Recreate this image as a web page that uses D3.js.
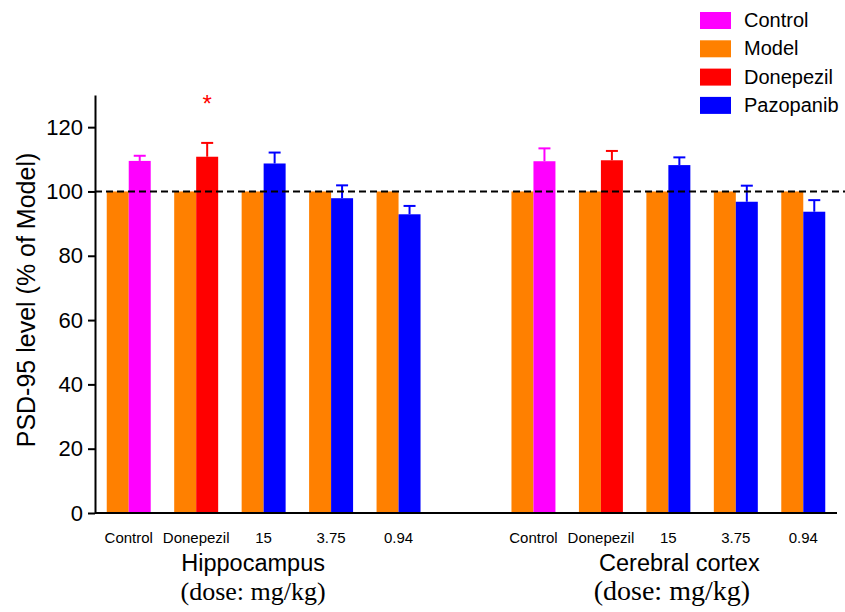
<!DOCTYPE html>
<html>
<head>
<meta charset="utf-8">
<script src="https://cdn.jsdelivr.net/npm/d3@7"></script>
<style>
  body { margin: 0; background: #fff; }
  svg { display: block; }
  text { font-family: "Liberation Sans", Arial, sans-serif; }
</style>
</head>
<body>
<div id="container"></div>
<script>
// Data
const groups = ["Hippocampus", "Cerebral cortex"]
const doses = ["Control", "Donepezil", "15", "3.75", "0.94"]
const treatments = ["Control", "Donepezil", "Pazopanib", "Pazopanib", "Pazopanib"]
const modelValue = 100
const hippoValues = [109.5, 110.8, 108.7, 97.9, 92.9]
const hippoErrors = [1.6, 4.3, 3.4, 4.0, 2.6]
const cortexValues = [109.4, 109.7, 108.2, 96.8, 93.7]
const cortexErrors = [4.0, 2.9, 2.4, 5.0, 3.6]
const significant = [{group: "Hippocampus", dose: "Donepezil", mark: "*"}]
const legendItems = ["Control", "Model", "Donepezil", "Pazopanib"]
const yTicks = [0, 20, 40, 60, 80, 100, 120]

const color = d3.scaleOrdinal()
  .domain(["Control", "Model", "Donepezil", "Pazopanib"])
  .range(["#ff00ff", "#ff8000", "#ff0000", "#0000ff"])

const width = 845, height = 612
const svg = d3.create("svg").attr("width", width).attr("height", height)
container.append(svg.node())

// slots: five per region, one empty slot between regions
const slots = []
groups.forEach((g, gi) => {
  if (gi > 0) slots.push("gap")
  doses.forEach(d => slots.push(g + "|" + d))
})

const x = d3.scaleBand().domain(slots).range([95, 837])
const bw = x.bandwidth()
const pair = bw * 0.652
const xInner = d3.scaleBand().domain(["Model", "Treated"])
  .range([(bw - pair) / 2, (bw + pair) / 2])

const y = d3.scaleLinear().domain([0, 130]).range([513, 95])

const rows = []
const seriesValues = [hippoValues, cortexValues]
const seriesErrors = [hippoErrors, cortexErrors]
groups.forEach((g, gi) => {
  doses.forEach((d, di) => {
    rows.push({group: g, dose: d, kind: "Model", series: "Model", value: modelValue, err: 0})
    rows.push({group: g, dose: d, kind: "Treated", series: treatments[di],
      value: seriesValues[gi][di], err: seriesErrors[gi][di]})
  })
})

const barX = d => x(d.group + "|" + d.dose) + xInner(d.kind)

// error bars (upper only, drawn behind bars)
const errs = rows.filter(d => d.err > 0)
const eg = svg.append("g")
eg.selectAll("line.v").data(errs).join("line")
  .attr("class", "v")
  .attr("x1", d => barX(d) + xInner.bandwidth() / 2)
  .attr("x2", d => barX(d) + xInner.bandwidth() / 2)
  .attr("y1", d => y(d.value))
  .attr("y2", d => y(d.value + d.err))
  .attr("stroke", d => color(d.series))
  .attr("stroke-width", 2)
eg.selectAll("line.c").data(errs).join("line")
  .attr("class", "c")
  .attr("x1", d => barX(d) + xInner.bandwidth() / 2 - 6)
  .attr("x2", d => barX(d) + xInner.bandwidth() / 2 + 6)
  .attr("y1", d => y(d.value + d.err))
  .attr("y2", d => y(d.value + d.err))
  .attr("stroke", d => color(d.series))
  .attr("stroke-width", 2)

svg.append("g").selectAll("rect").data(rows).join("rect")
  .attr("x", barX)
  .attr("y", d => y(d.value))
  .attr("width", xInner.bandwidth())
  .attr("height", d => y(0) - y(d.value))
  .attr("fill", d => color(d.series))

// reference line at 100%
svg.append("line")
  .attr("x1", 95).attr("x2", width)
  .attr("y1", y(100)).attr("y2", y(100))
  .attr("stroke", "#000")
  .attr("stroke-width", 2)
  .attr("stroke-dasharray", "7,4")

// significance marks
svg.selectAll("text.sig").data(significant).join("text")
  .attr("class", "sig")
  .attr("x", d => x(d.group + "|" + d.dose) + xInner("Treated") + xInner.bandwidth() / 2)
  .attr("y", d => {
    const r = rows.find(r => r.group == d.group && r.dose == d.dose && r.kind == "Treated")
    return y(r.value + r.err + 9.5)
  })
  .attr("text-anchor", "middle")
  .attr("font-size", 24)
  .attr("fill", "#ff0000")
  .text(d => d.mark)

// y axis
const yAxis = svg.append("g")
  .attr("transform", "translate(95,0)")
  .call(d3.axisLeft(y).tickValues(yTicks).tickSize(7).tickPadding(5).tickSizeOuter(0))
yAxis.select(".domain").attr("stroke-width", 2)
yAxis.selectAll(".tick line").attr("stroke-width", 2)
yAxis.selectAll(".tick text").attr("font-size", 22).attr("font-family", "Liberation Sans, Arial, sans-serif")

svg.append("text")
  .attr("transform", "translate(35," + 300 + ") rotate(-90)")
  .attr("text-anchor", "middle")
  .attr("font-size", 25)
  .text("PSD-95 level (% of Model)")

// x baseline
svg.append("line")
  .attr("x1", 95).attr("x2", 837)
  .attr("y1", y(0)).attr("y2", y(0))
  .attr("stroke", "#000").attr("stroke-width", 2)

// dose labels
const labels = []
groups.forEach(g => doses.forEach(d => labels.push({group: g, dose: d})))
svg.selectAll("text.dose").data(labels).join("text")
  .attr("class", "dose")
  .attr("x", d => x(d.group + "|" + d.dose) + bw / 2)
  .attr("y", 543)
  .attr("text-anchor", "middle")
  .attr("font-size", 15)
  .text(d => d.dose)

// region labels
const labelShift = [-10.5, 11]
const doseShift = [-10.5, 3.5]
const doseSize = [26, 28]
groups.forEach((g, gi) => {
  const cx = x(g + "|" + doses[2]) + bw / 2
  svg.append("text")
    .attr("x", cx + labelShift[gi]).attr("y", 571)
    .attr("text-anchor", "middle")
    .attr("font-size", 23.5)
    .text(g)
  svg.append("text")
    .attr("x", cx + doseShift[gi]).attr("y", 600)
    .attr("text-anchor", "middle")
    .attr("font-size", doseSize[gi])
    .style("font-family", "Liberation Serif, Times New Roman, serif")
    .text("(dose: mg/kg)")
})

// legend
const lg = svg.append("g").attr("transform", "translate(700,12)")
const li = lg.selectAll("g").data(legendItems).join("g")
  .attr("transform", (d, i) => "translate(0," + i * 28.3 + ")")
li.append("rect").attr("width", 31).attr("height", 17).attr("fill", d => color(d))
li.append("text").attr("x", 44).attr("y", 15).attr("font-size", 20).text(d => d)
</script>
</body>
</html>
